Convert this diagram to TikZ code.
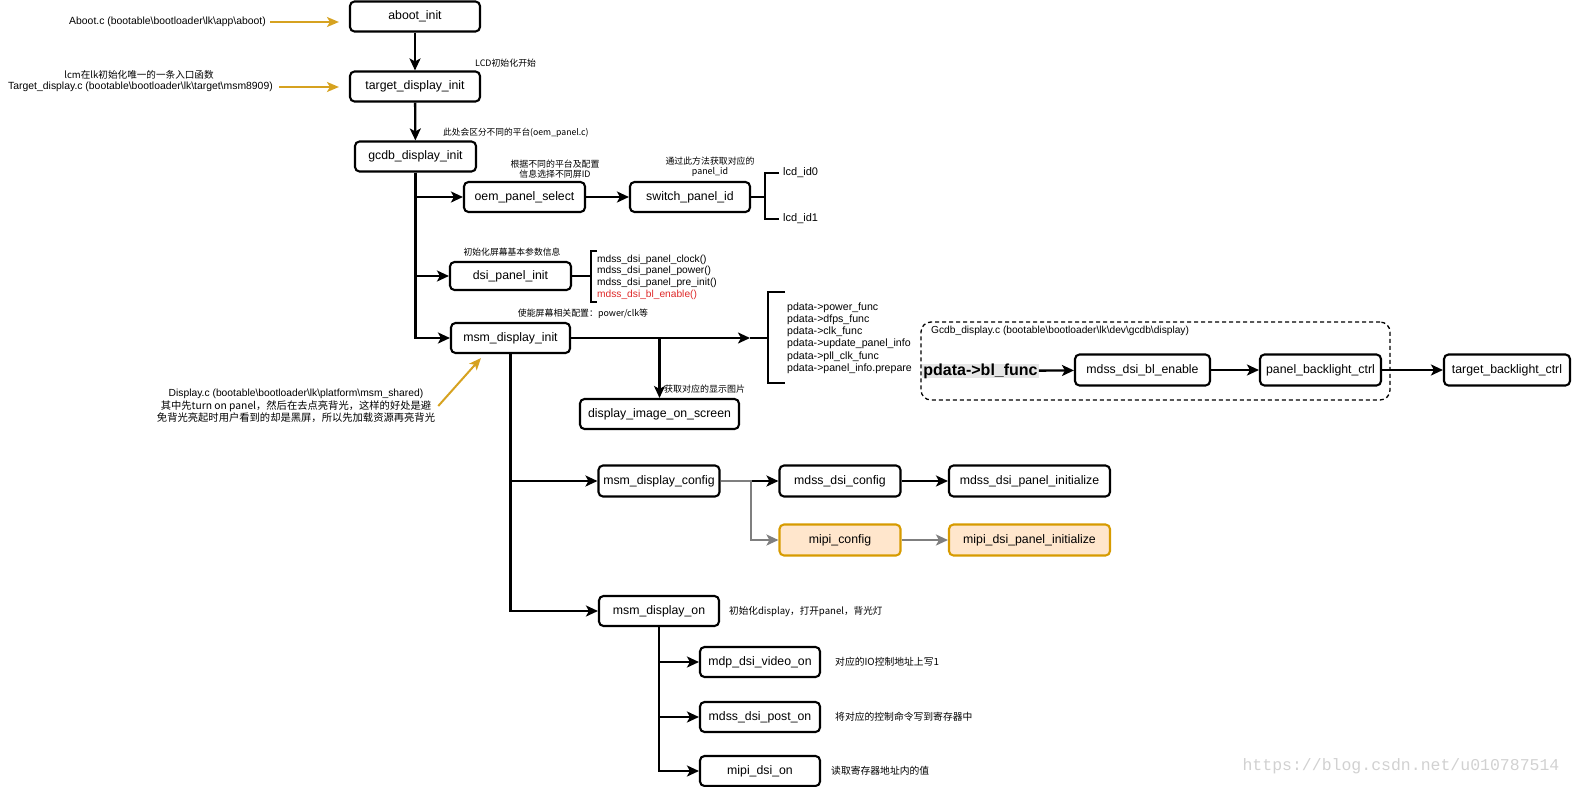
\documentclass[tikz,border=0pt]{standalone}
\usepackage{fontspec}
\setmainfont{Liberation Sans}
\newfontfamily\cjk{Noto Sans CJK SC}
\newfontfamily\wmfont{Liberation Mono}
\usetikzlibrary{arrows.meta,calc}
\definecolor{gold}{RGB}{214,162,32}
\definecolor{ofill}{HTML}{FFE6CC}
\definecolor{ostroke}{HTML}{D79B00}
\definecolor{redtxt}{RGB}{222,40,40}
\definecolor{gline}{HTML}{7F7F7F}
\definecolor{hlgray}{HTML}{E6E6E6}
\begin{document}
\begin{tikzpicture}[x=1pt,y=-1pt,
  box/.style={draw, line width=2.1pt, rounded corners=4.5pt, minimum height=30pt, inner sep=0pt,
    font=\fontsize{12.3}{14}\selectfont},
  obox/.style={box, draw=ostroke, fill=ofill},
  tip/.style={-{Stealth[length=12pt,width=11pt,inset=3pt]}},
  conn/.style={line width=2.3pt, tip},
  plain/.style={line width=2.3pt},
  gconn/.style={line width=2.4pt, draw=gline, -{Stealth[length=12pt,width=11pt,inset=3pt,gline]}},
  yarr/.style={line width=2pt, draw=gold, -{Stealth[length=12pt,width=10pt,inset=3pt,gold]}},
  lat/.style={inner sep=0pt, font=\fontsize{10.4}{12.2}\selectfont},
  cn/.style={inner sep=0pt, align=center, font=\cjk\fontsize{#1}{#1}\selectfont},
  cn/.default=9
]
\useasboundingbox (0,0) rectangle (1572,787);

% ---------- main boxes ----------
\node[box, minimum width=130pt] (aboot) at (415,16.5) {aboot\_init};
\node[box, minimum width=130pt] (target) at (415,86.5) {target\_display\_init};
\node[box, minimum width=121pt] (gcdb) at (415.5,156.5) {gcdb\_display\_init};
\node[box, minimum width=121pt] (oem) at (524.5,197) {oem\_panel\_select};
\node[box, minimum width=120pt] (switch) at (690,197) {switch\_panel\_id};
\node[box, minimum width=121pt, minimum height=28pt] (dsi) at (510.5,276) {dsi\_panel\_init};
\node[box, minimum width=119pt] (msminit) at (510.5,338) {msm\_display\_init};
\node[box, minimum width=159pt] (dios) at (659.5,414) {display\_image\_on\_screen};
\node[box, minimum width=121pt, minimum height=31pt] (msmcfg) at (659,481) {msm\_display\_config};
\node[box, minimum width=121pt, minimum height=31pt] (mdsscfg) at (840,481) {mdss\_dsi\_config};
\node[box, minimum width=161pt, minimum height=31pt] (mdssinit) at (1029.5,481) {mdss\_dsi\_panel\_initialize};
\node[obox, minimum width=121pt, minimum height=31pt] (mipicfg) at (840,540) {mipi\_config};
\node[obox, minimum width=161pt, minimum height=31pt] (mipiinit) at (1029.5,540) {mipi\_dsi\_panel\_initialize};
\node[box, minimum width=120pt] (msmon) at (659,611) {msm\_display\_on};
\node[box, minimum width=120pt] (mdp) at (760,662) {mdp\_dsi\_video\_on};
\node[box, minimum width=120pt] (post) at (760,717) {mdss\_dsi\_post\_on};
\node[box, minimum width=120pt] (mipion) at (760,771) {mipi\_dsi\_on};

% ---------- gcdb group ----------
\node[draw, dashed, dash pattern=on 4pt off 3pt, line width=1.3pt, rounded corners=10pt,
  minimum width=469pt, minimum height=78pt, inner sep=0pt] (grp) at (1155.5,361) {};
\node[lat, anchor=west, font=\fontsize{10.2}{12}\selectfont] (grplbl) at (931,331)
  {Gcdb\_display.c (bootable\textbackslash bootloader\textbackslash lk\textbackslash dev\textbackslash gcdb\textbackslash display)};
\node[fill=hlgray, inner xsep=1pt, inner ysep=0pt, font=\bfseries\fontsize{16}{17}\selectfont] (blf) at (980.5,371) {pdata->bl\_func};
\node[box, minimum width=135pt, minimum height=31pt] (bl) at (1142.5,370) {mdss\_dsi\_bl\_enable};
\node[box, minimum width=121pt, minimum height=31pt] (pbc) at (1320.5,370) {panel\_backlight\_ctrl};
\node[box, minimum width=126pt, minimum height=31pt] (tbc) at (1507,370) {target\_backlight\_ctrl};

% ---------- texts ----------
\node[lat, anchor=east] (abootsrc) at (266,22)
  {Aboot.c (bootable\textbackslash bootloader\textbackslash lk\textbackslash app\textbackslash aboot)};
\node[cn=9.6] (lcmnote) at (139,75) {lcm在lk初始化唯一的一条入口函数};
\node[lat, anchor=east] (tgtsrc) at (273,87)
  {Target\_display.c (bootable\textbackslash bootloader\textbackslash lk\textbackslash target\textbackslash msm8909)};
\node[cn=8.9, anchor=west] (lcdnote) at (475,63) {LCD初始化开始};
\node[cn=8.7, anchor=west] (platnote) at (443,133) {此处会区分不同的平台(oem\_panel.c)};
\node[cn=8.9, font=\cjk\fontsize{8.9}{10}\selectfont] (oemnote) at (555,169) {根据不同的平台及配置\\信息选择不同屏ID};
\node[cn=8.9, font=\cjk\fontsize{8.9}{10}\selectfont] (swnote) at (710,167) {通过此方法获取对应的\\panel\_id};
\node[lat, anchor=west, font=\fontsize{11}{12}\selectfont] (lcd0) at (783,173) {lcd\_id0};
\node[lat, anchor=west, font=\fontsize{11}{12}\selectfont] (lcd1) at (783,219) {lcd\_id1};
\node[cn=8.8] (dsinote) at (512,252) {初始化屏幕基本参数信息};
\node[lat, anchor=west, align=left, font=\fontsize{10.2}{11.7}\selectfont] (dsilist) at (597,277)
  {mdss\_dsi\_panel\_clock()\\mdss\_dsi\_panel\_power()\\mdss\_dsi\_panel\_pre\_init()\\\textcolor{redtxt}{mdss\_dsi\_bl\_enable()}};
\node[cn=8.9] (pwrnote) at (583,314) {使能屏幕相关配置：power/clk等};
\node[lat, anchor=west, align=left, font=\fontsize{10.6}{12.2}\selectfont] (plist) at (787,338)
  {pdata->power\_func\\pdata->dfps\_func\\pdata->clk\_func\\pdata->update\_panel\_info\\pdata->pll\_clk\_func\\pdata->panel\_info.prepare};
\node[cn=9, anchor=west] (imgnote) at (664,389) {获取对应的显示图片};
\node[lat, align=center, font=\fontsize{10.3}{12.3}\selectfont] (dispnote) at (296,406)
  {Display.c (bootable\textbackslash bootloader\textbackslash lk\textbackslash platform\textbackslash msm\_shared)\\
   {\cjk 其中先turn on panel，然后在去点亮背光，这样的好处是避}\\
   {\cjk 免背光亮起时用户看到的却是黑屏，所以先加载资源再亮背光}};
\node[cn=9.6, anchor=west] (onnote) at (729,612) {初始化display，打开panel，背光灯};
\node[cn=9.8, anchor=west] (mdpnote) at (835,662) {对应的IO控制地址上写1};
\node[cn=9.8, anchor=west] (postnote) at (835,717) {将对应的控制命令写到寄存器中};
\node[cn=9.8, anchor=west] (mipinote) at (831,771) {读取寄存器地址内的值};
\node[inner sep=0pt, text=black!18, font=\wmfont\fontsize{16.5}{18}\selectfont] (wm) at (1401,766) {https://blog.csdn.net/u010787514};

% ---------- helper coordinates ----------
\coordinate (swbr) at (765,197);
\coordinate (dsibr) at (591,276);
\coordinate (dsibt) at (597,251);
\coordinate (dsibb) at (597,302);
\coordinate (pstem) at (750,338);
\coordinate (pbr) at (768,338);
\coordinate (pbt) at (785,292);
\coordinate (pbb) at (785,383);
\coordinate (dbr) at (659.5,338);
\coordinate (gbr) at (751,481);
\coordinate (dispend) at ($(msminit.south west)+(31,4)$);

% ---------- connectors ----------
\draw[yarr] ([xshift=4pt]abootsrc.east) -- ([xshift=-10pt]abootsrc.east -| aboot.west);
\draw[yarr] ([xshift=6pt]tgtsrc.east) -- ([xshift=-10pt]tgtsrc.east -| target.west);
\draw[yarr] ([xshift=3pt,yshift=0pt]dispnote.east) -- (dispend);

\draw[conn] (aboot) -- (target);
\draw[conn] (target) -- (gcdb);
\draw[conn] (gcdb.south) |- (oem.west);
\draw[conn] (gcdb.south) |- (dsi.west);
\draw[conn] (gcdb.south) |- (msminit.west);
\draw[conn] (oem) -- (switch);
\draw[plain] (switch.east) -- (swbr);
\draw[plain] ([xshift=-4pt]lcd0.west) -| (swbr) |- ([xshift=-4pt]lcd1.west);
\draw[plain] (dsi.east) -- (dsibr);
\draw[plain] (dsibt) -| (dsibr) |- (dsibb);
\draw[conn] (msminit.east) -- (pstem);
\draw[plain] (pstem) -- (pbr);
\draw[plain] (pbt) -| (pbr) |- (pbb);
\draw[conn] (dbr) -- (dios.north);
\draw[conn] (msminit.south) |- (msmcfg.west);
\draw[conn] (msminit.south) |- (msmon.west);
\draw[conn] (msmcfg) -- (mdsscfg);
\draw[conn] (mdsscfg) -- (mdssinit);
\draw[gconn] (msmcfg.east) -- (gbr) |- (mipicfg.west);
\draw[gconn] (mipicfg) -- (mipiinit);
\draw[conn] (msmon.south) |- (mdp.west);
\draw[conn] (msmon.south) |- (post.west);
\draw[conn] (msmon.south) |- (mipion.west);
\draw[conn] (blf) -- (bl);
\draw[conn] (bl) -- (pbc);
\draw[conn] (pbc) -- (tbc);
\end{tikzpicture}
\end{document}
